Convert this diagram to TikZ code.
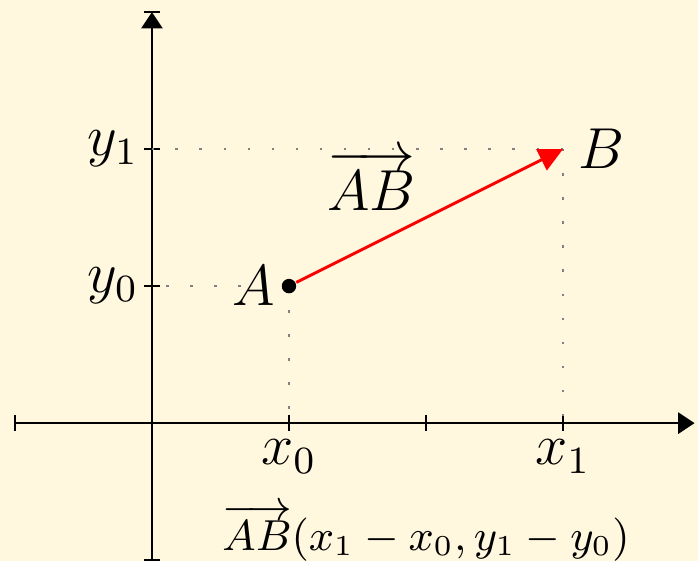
\documentclass[tikz,border=0pt]{standalone}
\usepackage{amsmath}
\usepackage{amssymb}
\usepackage{xcolor}
\usepackage{tikz}
\usetikzlibrary{arrows.meta,positioning}
\definecolor{paperbg}{RGB}{255,247,222}
\definecolor{vecred}{RGB}{255,0,0}

\begin{document}
\begin{tikzpicture}[
        axisline/.style={-{Triangle[length=3.4pt,width=4.4pt]}, thin},
        tickmark/.style={thin},
        projline/.style={gray, line width=0.5pt, dash pattern=on 0.5pt off 4.5pt},
        vecarrow/.style={-{Triangle[length=5pt,width=4.8pt]}, vecred, semithick},
        ptdot/.style={circle, fill=black, inner sep=0pt, minimum size=3pt},
        coordlabel/.style={font=\large, inner sep=1.5pt},
    ]
    % Background and frame
    \useasboundingbox[fill=paperbg] (-1.109,-1.007) rectangle (3.985,3.088);

    % Axis ends and tick positions
    \coordinate (O) at (0,0);
    \coordinate (xl) at (-1,0);
    \coordinate (xr) at (3.96,0);
    \coordinate (yb) at (0,-1);
    \coordinate (yt) at (0,3);
    \coordinate (x0) at (1,0);
    \coordinate (x1) at (3,0);
    \coordinate (y0) at (0,1);
    \coordinate (y1) at (0,2);
    \coordinate (Apos) at (1,1);
    \coordinate (B) at (3,2);

    % === Axes ===
    \draw[axisline] (xl) -- (xr);
    \draw[axisline] (yb) -- (yt);
    \foreach \t in {-1,...,3} {
        \draw[tickmark] (\t,-0.058) -- (\t,0.058);
        \draw[tickmark] (-0.058,\t) -- (0.058,\t);
    }

    % Projections onto the axes
    \draw[projline] (Apos) -- (x0);
    \draw[projline] (Apos) -- (y0);
    \draw[projline] (B) -- (x1);
    \draw[projline] (B) -- (y1);

    % === Points and vector ===
    \node[ptdot] (A) at (Apos) {};
    \draw[vecarrow] (A) -- (B);

    % === Labels ===
    \node[coordlabel, below=0.06cm of x0] (lx0) {$x_0$};
    \node[coordlabel, below=0.06cm of x1] (lx1) {$x_1$};
    \node[coordlabel, left=0.04cm of y0] (ly0) {$y_0$};
    \node[coordlabel, left=0.04cm of y1] (ly1) {$y_1$};
    \node[coordlabel, left=-0.02cm of A] (lA) {$A$};
    \node[coordlabel, right=0.055cm of B] (lB) {$B$};
    \node[coordlabel] (lAB) at (1.6,1.77) {$\overrightarrow{AB}$};
    \node[coordlabel, font=\fontsize{9.2}{11}\selectfont] (lcomp) at (2.0,-0.8) {$\overrightarrow{AB}(x_1-x_0,y_1-y_0)$};

\end{tikzpicture}
\end{document}
